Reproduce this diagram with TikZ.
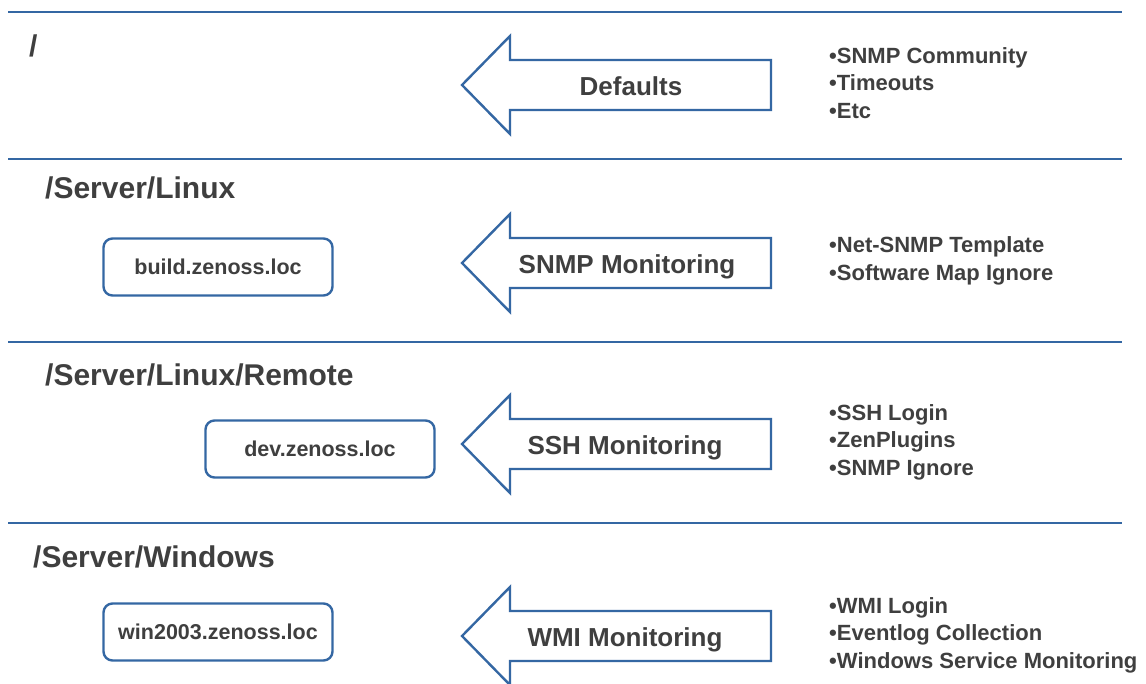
\documentclass[tikz,border=0pt]{standalone}
\usepackage{fontspec}
\setmainfont{Liberation Sans}
\usepackage{xcolor}
\usetikzlibrary{positioning}

\definecolor{zblue}{HTML}{3467A3}
\definecolor{ztext}{HTML}{3F3F3F}

\begin{document}
\begin{tikzpicture}[x=1pt, y=-1pt,
    divider/.style={draw=zblue, line width=2.6pt},
    blockarrow/.style={draw=zblue, line width=2.4pt, fill=white, line join=miter},
    arrowlabel/.style={inner sep=0pt, text height=18.7pt, text depth=0pt, text=ztext, font=\fontsize{26}{30}\selectfont\bfseries},
    device/.style={rectangle, rounded corners=9pt, draw=zblue, line width=2.4pt, minimum width=229pt, minimum height=57pt, text centered, text=ztext, font=\fontsize{21.5}{25}\selectfont\bfseries},
    devclass/.style={anchor=west, inner sep=0pt, text=ztext, font=\fontsize{30}{34}\selectfont\bfseries},
    props/.style={anchor=west, inner sep=0pt, align=left, text=ztext, font=\fontsize{22}{27.5}\selectfont\bfseries}]

\fill[white] (0,0) rectangle (1146,684);
\useasboundingbox (0,0) rectangle (1146,684);

% section dividers
\draw [divider] (8,12) -- (1122,12);
\draw [divider] (8,159) -- (1122,159);
\draw [divider] (8,342) -- (1122,342);
\draw [divider] (8,523) -- (1122,523);

% device classes
\node (root) [devclass] at (29,46) {/};
\node (linux) [devclass] at (45,188) {/Server/Linux};
\node (remote) [devclass] at (45,375) {/Server/Linux/Remote};
\node (windows) [devclass] at (33,557) {/Server/Windows};

% devices
\node (build) [device] at (218,267) {build.zenoss.loc};
\node (dev) [device] at (320,449) {dev.zenoss.loc};
\node (win) [device] at (218,632) {win2003.zenoss.loc};

% inheritance arrows
\draw [blockarrow] (462,85) -- (510,36) -- (510,60) -- (771,60) -- (771,110) -- (510,110) -- (510,134) -- cycle;
\draw [blockarrow] (462,263) -- (510,214) -- (510,238) -- (771,238) -- (771,288) -- (510,288) -- (510,312) -- cycle;
\draw [blockarrow] (462,444) -- (510,395) -- (510,419) -- (771,419) -- (771,469) -- (510,469) -- (510,493) -- cycle;
\draw [blockarrow] (462,636) -- (510,587) -- (510,611) -- (771,611) -- (771,661) -- (510,661) -- (510,685) -- cycle;

\node (defaults) [arrowlabel] at (631,86) {Defaults};
\node (snmp) [arrowlabel] at (627,264) {SNMP Monitoring};
\node (ssh) [arrowlabel] at (625,445) {SSH Monitoring};
\node (wmi) [arrowlabel] at (625,637) {WMI Monitoring};

% configuration per class
\node (rootprops) [props] at (829,83) {•SNMP Community\\•Timeouts\\•Etc};
\node (linuxprops) [props] at (829,261) {•Net-SNMP Template\\•Software Map Ignore};
\node (remoteprops) [props] at (829,442) {•SSH Login\\•ZenPlugins\\•SNMP Ignore};
\node (winprops) [props] at (829,635) {•WMI Login\\•Eventlog Collection\\•Windows Service Monitoring};

\end{tikzpicture}
\end{document}
